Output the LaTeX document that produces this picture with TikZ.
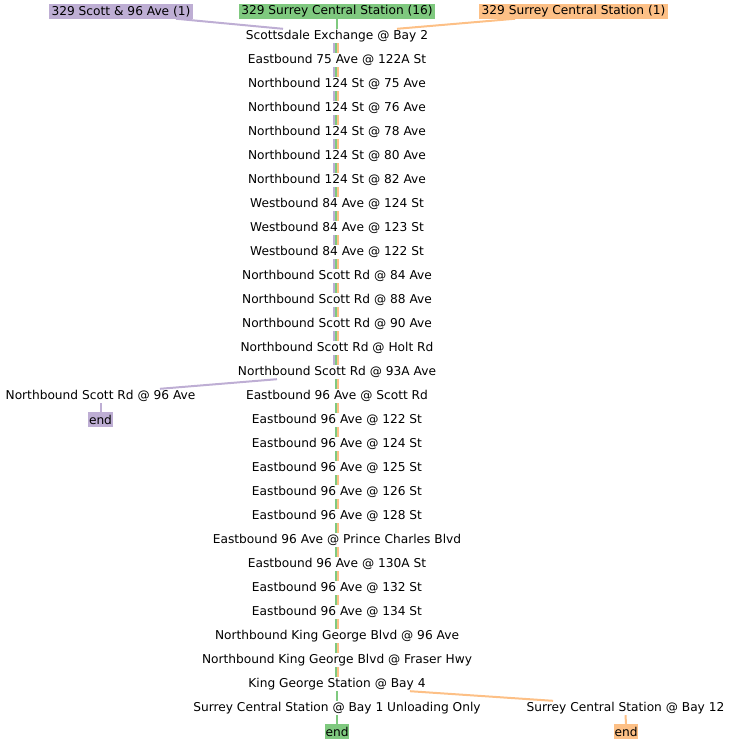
\documentclass[tikz,border=0pt]{standalone}
\usepackage{fontspec}
\setmainfont{DejaVu Sans}
\usepackage{tikz}
\usetikzlibrary{positioning,calc}
\definecolor{lila}{HTML}{BEAED4}
\definecolor{verde}{HTML}{7FC97F}
\definecolor{naranja}{HTML}{FDC086}

\begin{document}
\begin{tikzpicture}[x=1pt, y=-1pt, font=\fontsize{12.2}{14}\selectfont,
    parada/.style={inner sep=0pt, minimum height=14pt},
    linea/.style={fill=#1, inner xsep=2.5pt, inner ysep=0pt, minimum height=14.5pt},
    fin/.style={fill=#1, inner xsep=1pt, inner ysep=0pt, minimum height=15pt},
    tramo/.style={line width=2pt, #1}]
  \useasboundingbox (0,0) rectangle (731,744);
  % cabeceras
  \node[linea=lila] (hl) at (121,11.3) {329 Scott \& 96 Ave (1)};
  \node[linea=verde] (hv) at (337,11.3) {329 Surrey Central Station (16)};
  \node[linea=naranja] (hn) at (573.5,11.3) {329 Surrey Central Station (1)};
  % paradas
  \foreach \i/\t in {1/{Scottsdale Exchange @ Bay 2}, 2/{Eastbound 75 Ave @ 122A St},
      3/{Northbound 124 St @ 75 Ave}, 4/{Northbound 124 St @ 76 Ave},
      5/{Northbound 124 St @ 78 Ave}, 6/{Northbound 124 St @ 80 Ave},
      7/{Northbound 124 St @ 82 Ave}, 8/{Westbound 84 Ave @ 124 St},
      9/{Westbound 84 Ave @ 123 St}, 10/{Westbound 84 Ave @ 122 St},
      11/{Northbound Scott Rd @ 84 Ave}, 12/{Northbound Scott Rd @ 88 Ave},
      13/{Northbound Scott Rd @ 90 Ave}, 14/{Northbound Scott Rd @ Holt Rd},
      15/{Northbound Scott Rd @ 93A Ave}, 16/{Eastbound 96 Ave @ Scott Rd},
      17/{Eastbound 96 Ave @ 122 St}, 18/{Eastbound 96 Ave @ 124 St},
      19/{Eastbound 96 Ave @ 125 St}, 20/{Eastbound 96 Ave @ 126 St},
      21/{Eastbound 96 Ave @ 128 St}, 22/{Eastbound 96 Ave @ Prince Charles Blvd},
      23/{Eastbound 96 Ave @ 130A St}, 24/{Eastbound 96 Ave @ 132 St},
      25/{Eastbound 96 Ave @ 134 St}, 26/{Northbound King George Blvd @ 96 Ave},
      27/{Northbound King George Blvd @ Fraser Hwy}, 28/{King George Station @ Bay 4},
      29/{Surrey Central Station @ Bay 1 Unloading Only}}
    \node[parada] (s\i) at (337,12+24*\i) {\t};
  \node[parada] (pl) at (100.5,396) {Northbound Scott Rd @ 96 Ave};
  \node[parada] (pn) at (625.5,708) {Surrey Central Station @ Bay 12};
  \node[fin=lila] (el) at (100.5,419.5) {end};
  \node[fin=verde] (ev) at (337,731.5) {end};
  \node[fin=naranja] (en) at (626,731.5) {end};
  % tramos
  \draw[tramo=lila] ([xshift=55pt]hl.south) -- ([xshift=-54pt]s1.north);
  \draw[tramo=verde] (hv.south) -- (s1.north);
  \draw[tramo=naranja] ([xshift=-58.5pt]hn.south) -- ([xshift=60pt]s1.north);
  \foreach \i [count=\j from 2] in {1,...,14}
    \draw[tramo=lila] ([xshift=-3.5pt]s\i.south) -- ([xshift=-3.5pt]s\j.north);
  \foreach \i [count=\j from 2] in {1,...,27}{
    \draw[tramo=verde] ([xshift=-1.5pt]s\i.south) -- ([xshift=-1.5pt]s\j.north);
    \draw[tramo=naranja] ([xshift=0.5pt]s\i.south) -- ([xshift=0.5pt]s\j.north);
  }
  \draw[tramo=lila] ([xshift=-60pt]s15.south) -- ([xshift=59.5pt]pl.north);
  \draw[tramo=lila] (pl.south) -- (el.north);
  \draw[tramo=verde] (s28.south) -- (s29.north);
  \draw[tramo=verde] (s29.south) -- (ev.north);
  \draw[tramo=naranja] ([xshift=73pt]s28.south) -- ([xshift=-72.5pt]pn.north);
  \draw[tramo=naranja] (pn.south) -- (en.north);
\end{tikzpicture}
\end{document}
